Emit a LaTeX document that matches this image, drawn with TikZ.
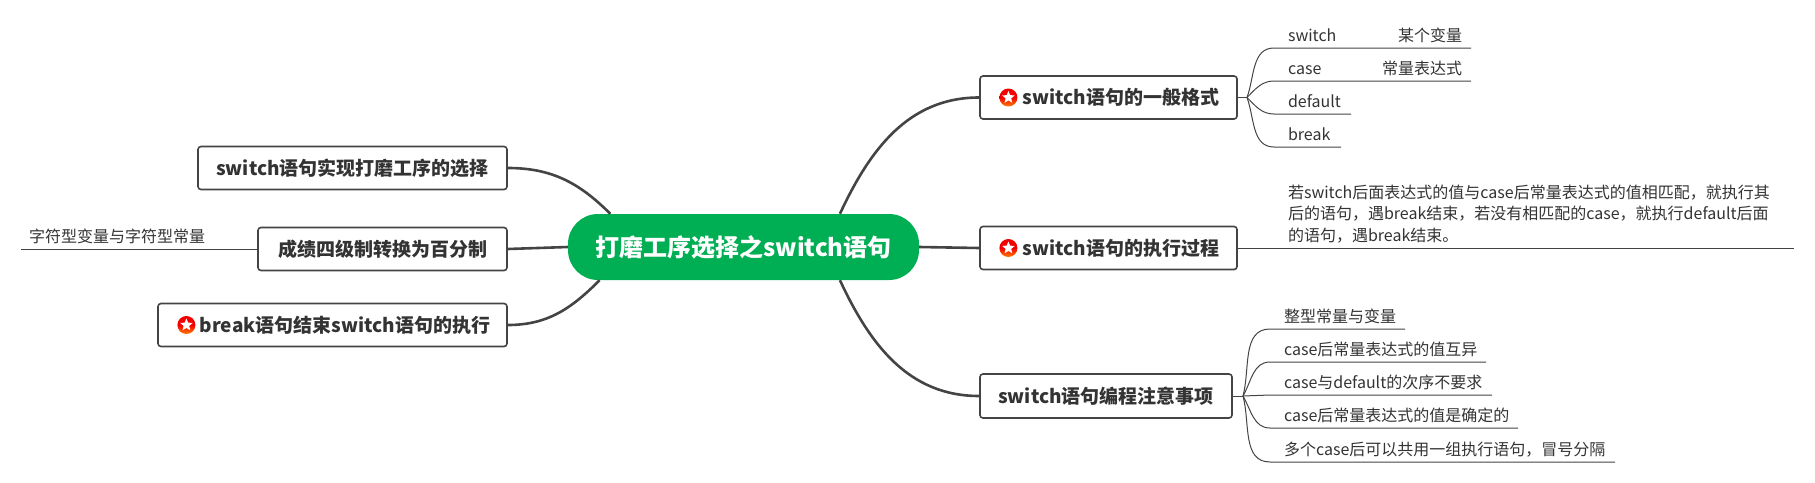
\documentclass[tikz,border=0pt]{standalone}
\usepackage{fontspec}
\setmainfont{Noto Sans CJK SC}
\usetikzlibrary{positioning, shapes.geometric}
\definecolor{rootgreen}{RGB}{0,174,83}
\definecolor{linegray}{RGB}{68,68,68}
\definecolor{textgray}{RGB}{51,51,51}

\begin{document}
\begin{tikzpicture}[x=1pt, y=-1pt, node distance={20pt},
    root/.style = {fill=rootgreen, text=white, rounded corners=30pt, minimum width=351pt, minimum height=66pt, inner sep=0pt, font=\fontsize{24}{30}\selectfont\bfseries},
    main/.style = {draw=linegray, line width=1.6pt, fill=white, text=textgray, rounded corners=3pt, minimum height=43pt, inner sep=0pt, font=\fontsize{19}{23}\selectfont\bfseries},
    leaf/.style = {anchor=south west, align=left, text=textgray, text width=#1, inner xsep=14pt, inner ysep=3pt, outer sep=0pt, text height=12pt, text depth=4pt, font=\fontsize{16}{21.5}\selectfont},
    side/.style = {anchor=south east, text=textgray, inner xsep=0pt, inner ysep=3pt, outer sep=0pt, text height=12pt, text depth=4pt, font=\fontsize{16}{21.5}\selectfont},
    badge/.style = {circle, top color=red!95!black, bottom color=orange, middle color=red!95!black, minimum size=18pt, inner sep=0pt},
    starmark/.style = {star, star points=5, star point ratio=2.2, fill=white, minimum size=13pt, inner sep=0pt},
    thick link/.style = {draw=linegray, line width=2.6pt},
    thin link/.style = {draw=linegray, line width=1pt}]

    \useasboundingbox (0, 0) rectangle (1815, 482);

    \node[root] (r) at (743.5, 247) {打磨工序选择之switch语句};

    %--------------------------------------------

    \node[main, minimum width=257pt] (f1) at (1108.5, 97.5) {\hspace*{25pt}switch语句的一般格式};
    \node[badge, right=of f1.west] (i1) {};
    \node[starmark] (s1) at (i1) {};
    \draw[thick link, out=65, in=180] (r.19) to (f1.west);

    \coordinate (k1) at (1247, 97.5);
    \node[leaf=169pt] (a1) at (1274, 48) {switch};
    \node[leaf=169pt] (a2) at (1274, 81) {case};
    \node[leaf=49pt] (a3) at (1274, 114) {default};
    \node[leaf=39pt] (a4) at (1274, 147) {break};
    \node[side] (n1) at (1462, 48) {某个变量};
    \node[side] (n2) at (1462, 81) {常量表达式};
    \draw[thin link] (f1.east) -- (k1);
    \draw[thin link, out=70, in=180] (k1) to (a1.south west) -- (a1.south east);
    \draw[thin link, out=45, in=180] (k1) to (a2.south west) -- (a2.south east);
    \draw[thin link, out=-45, in=180] (k1) to (a3.south west) -- (a3.south east);
    \draw[thin link, out=-70, in=180] (k1) to (a4.south west) -- (a4.south east);

    %--------------------------------------------

    \node[main, minimum width=257pt] (f2) at (1108.5, 248) {\hspace*{25pt}switch语句的执行过程};
    \node[badge, right=of f2.west] (i2) {};
    \node[starmark] (s2) at (i2) {};
    \draw[thick link] (r.east) -- (f2.west);

    \node[leaf=492pt, text depth=47pt] (b1) at (1274, 248) {若switch后面表达式的值与case后常量表达式的值相匹配，就执行其\\后的语句，遇break结束，若没有相匹配的case，就执行default后面\\的语句，遇break结束。};
    \draw[thin link] (f2.east) -- (b1.south east);

    %--------------------------------------------

    \node[main, minimum width=252pt, minimum height=44pt] (f3) at (1106, 396) {switch语句编程注意事项};
    \draw[thick link, out=-65, in=180] (r.-19) to (f3.west);

    \coordinate (k3) at (1243, 396);
    \node[leaf=107pt] (c1) at (1270, 329) {整型常量与变量};
    \node[leaf=188pt] (c2) at (1270, 362) {case后常量表达式的值互异};
    \node[leaf=194pt] (c3) at (1270, 395) {case与default的次序不要求};
    \node[leaf=220pt] (c4) at (1270, 428) {case后常量表达式的值是确定的};
    \node[leaf=317pt] (c5) at (1270, 462) {多个case后可以共用一组执行语句，冒号分隔};
    \draw[thin link] (f3.east) -- (k3);
    \draw[thin link, out=75, in=180] (k3) to (c1.south west) -- (c1.south east);
    \draw[thin link, out=60, in=180] (k3) to (c2.south west) -- (c2.south east);
    \draw[thin link] (k3) -- (c3.south west) -- (c3.south east);
    \draw[thin link, out=-60, in=180] (k3) to (c4.south west) -- (c4.south east);
    \draw[thin link, out=-75, in=180] (k3) to (c5.south west) -- (c5.south east);

    %--------------------------------------------

    \node[main, minimum width=309pt] (g1) at (352.5, 168) {switch语句实现打磨工序的选择};
    \node[main, minimum width=249pt] (g2) at (382.5, 249) {成绩四级制转换为百分制};
    \node[main, minimum width=349pt] (g3) at (332.5, 325) {\hspace*{25pt}break语句结束switch语句的执行};
    \node[badge, right=of g3.west] (i3) {};
    \node[starmark] (s3) at (i3) {};
    \draw[thick link, out=135, in=0] (r.166.3) to (g1.east);
    \draw[thick link] (r.west) -- (g2.east);
    \draw[thick link, out=-135, in=0] (r.193.7) to (g3.east);

    \node[leaf=205pt, inner xsep=8pt] (d1) at (21, 249) {字符型变量与字符型常量};
    \draw[thin link] (g2.west) -- (d1.south west);

\end{tikzpicture}
\end{document}
